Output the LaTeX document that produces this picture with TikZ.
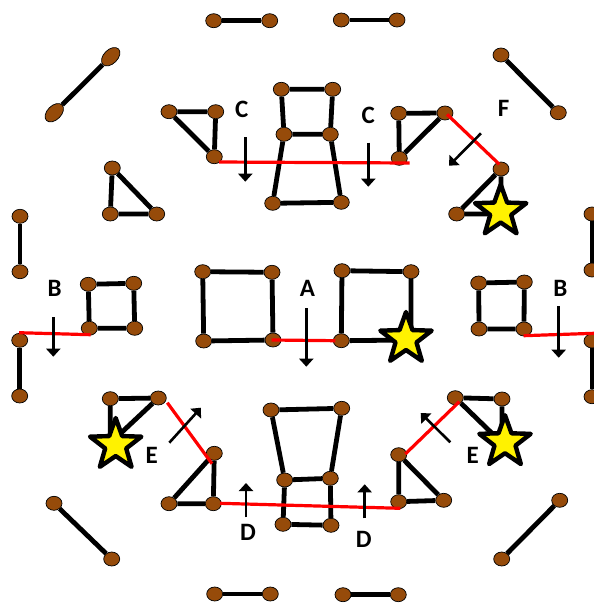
\documentclass[tikz,border=0pt]{standalone}
\usepackage{fontspec}
\setmainfont{Carlito}
\usetikzlibrary{shapes.geometric,arrows.meta}
\definecolor{nodebrown}{RGB}{150,75,10}
\tikzset{
  nd/.style={ellipse,draw=black,line width=0.7pt,fill=nodebrown,minimum width=16pt,minimum height=14pt,inner sep=0pt},
  big/.style={nd,minimum width=22pt,minimum height=14pt,rotate=45},
  bar/.style={line width=4.8pt,black},
  cut/.style={line width=3.2pt,red},
  mv/.style={line width=2.6pt,black,-{Triangle[length=8pt,width=14pt]}},
  lbl/.style={font=\bfseries\fontsize{25}{25}\selectfont,inner sep=0pt},
  hit/.style={star,star points=5,star point ratio=2.45,draw=black,fill=yellow,line width=4.4pt,minimum size=54pt,inner sep=0pt,line join=round}
}
\begin{document}
\begin{tikzpicture}[x=1pt,y=-1pt]
\useasboundingbox (0,0) rectangle (594,603);
\clip (0,0) rectangle (594,603);
% outer ring
\node[nd] (ta) at (213.7,20.7) {};
\node[nd] (tb) at (269.7,20.7) {};
\node[nd] (tc) at (341.3,20) {};
\node[nd] (td) at (397,20) {};
\node[big] (ula) at (110.7,56.7) {};
\node[big] (ulb) at (54.3,112.7) {};
\node[nd] (ura) at (501,55) {};
\node[nd] (urb) at (558.3,112.7) {};
\node[nd] (lva) at (20,216.3) {};
\node[nd] (lvb) at (20,271.7) {};
\node[nd] (lvc) at (19.7,340.3) {};
\node[nd] (lvd) at (19.7,396) {};
\node[nd] (rva) at (592,214) {};
\node[nd] (rvb) at (592,270) {};
\node[nd] (rvc) at (592,341) {};
\node[nd] (rvd) at (592,396.7) {};
\node[nd] (lla) at (54,503.3) {};
\node[nd] (llb) at (111.7,559) {};
\node[nd] (lra) at (559.7,500.3) {};
\node[nd] (lrb) at (501.7,559) {};
\node[nd] (ba) at (214.7,594) {};
\node[nd] (bb) at (270.3,594) {};
\node[nd] (bc) at (343,594.7) {};
\node[nd] (bd) at (398.3,594.7) {};
% triangles
\node[nd] (t1a) at (169,111.7) {};
\node[nd] (t1b) at (215.7,111.7) {};
\node[nd] (t1c) at (214.3,156.7) {};
\node[nd] (t2a) at (112.3,168) {};
\node[nd] (t2b) at (110.3,214) {};
\node[nd] (t2c) at (156.7,214) {};
\node[nd] (t3a) at (398.7,113.3) {};
\node[nd] (t3b) at (445,113) {};
\node[nd] (t3c) at (399.3,158.3) {};
\node[nd] (t4a) at (501,169) {};
\node[nd] (t4b) at (456.7,214) {};
\node[nd] (t4c) at (501,214) {};
\node[nd] (t5a) at (110.3,398.7) {};
\node[nd] (t5b) at (158.3,398) {};
\node[nd] (t5c) at (110.3,443) {};
\node[nd] (t6a) at (214.3,453.3) {};
\node[nd] (t6b) at (169,503.7) {};
\node[nd] (t6c) at (213.3,503.7) {};
\node[nd] (t7a) at (398.7,454.7) {};
\node[nd] (t7b) at (398.7,501.7) {};
\node[nd] (t7c) at (443.7,500.3) {};
\node[nd] (t8a) at (455.3,397.7) {};
\node[nd] (t8b) at (502,399) {};
\node[nd] (t8c) at (502,443) {};
% squares
\node[nd] (s1a) at (88.3,284.3) {};
\node[nd] (s1b) at (133.7,283.3) {};
\node[nd] (s1c) at (89.3,328.3) {};
\node[nd] (s1d) at (134.7,328.3) {};
\node[nd] (s2a) at (202.7,271.7) {};
\node[nd] (s2b) at (272,272.3) {};
\node[nd] (s2c) at (203.7,341) {};
\node[nd] (s2d) at (273,340) {};
\node[nd] (s3a) at (342,270.7) {};
\node[nd] (s3b) at (411,271.7) {};
\node[nd] (s3c) at (341.3,340.7) {};
\node[nd] (s3d) at (411,340) {};
\node[nd] (s4a) at (478.7,283) {};
\node[nd] (s4b) at (524.3,282) {};
\node[nd] (s4c) at (479,329) {};
\node[nd] (s4d) at (524,329) {};
% top centre
\node[nd] (ca) at (281.3,89.3) {};
\node[nd] (cb) at (332.7,89.3) {};
\node[nd] (cc) at (284,134.3) {};
\node[nd] (cd) at (330.3,134.3) {};
\node[nd] (ce) at (272.7,203.3) {};
\node[nd] (cf) at (341.3,202.3) {};
% bottom centre
\node[nd] (da) at (271,410) {};
\node[nd] (db) at (341.7,408.3) {};
\node[nd] (dc) at (284.7,480) {};
\node[nd] (dd) at (330.3,478.3) {};
\node[nd] (de) at (283,524.3) {};
\node[nd] (df) at (331,525.3) {};
% black bars
\draw[bar] (ta)--(tb);
\draw[bar] (tc)--(td);
\draw[bar] (ula)--(ulb);
\draw[bar] (ura)--(urb);
\draw[bar] (lva)--(lvb);
\draw[bar] (lvc)--(lvd);
\draw[bar] (rva)--(rvb);
\draw[bar] (rvc)--(rvd);
\draw[bar] (lla)--(llb);
\draw[bar] (lra)--(lrb);
\draw[bar] (ba)--(bb);
\draw[bar] (bc)--(bd);
\draw[bar] (t1a)--(t1b) (t1b)--(t1c) (t1c)--(t1a);
\draw[bar] (t2a)--(t2b) (t2b)--(t2c) (t2c)--(t2a);
\draw[bar] (t3a)--(t3b) (t3b)--(t3c) (t3c)--(t3a);
\draw[bar] (t4a)--(t4b) (t4b)--(t4c) (t4c)--(t4a);
\draw[bar] (t5a)--(t5b) (t5b)--(t5c) (t5c)--(t5a);
\draw[bar] (t6a)--(t6b) (t6b)--(t6c) (t6c)--(t6a);
\draw[bar] (t7a)--(t7b) (t7b)--(t7c) (t7c)--(t7a);
\draw[bar] (t8a)--(t8b) (t8b)--(t8c) (t8c)--(t8a);
\draw[bar] (s1a)--(s1b) (s1b)--(s1d) (s1d)--(s1c) (s1c)--(s1a);
\draw[bar] (s2a)--(s2b) (s2b)--(s2d) (s2d)--(s2c) (s2c)--(s2a);
\draw[bar] (s3a)--(s3b) (s3b)--(s3d) (s3d)--(s3c) (s3c)--(s3a);
\draw[bar] (s4a)--(s4b) (s4b)--(s4d) (s4d)--(s4c) (s4c)--(s4a);
\draw[bar] (ca)--(cb) (cb)--(cd) (cd)--(cc) (cc)--(ca) (cc)--(ce) (ce)--(cf) (cf)--(cd);
\draw[bar] (da)--(db) (db)--(dd) (dd)--(dc) (dc)--(da) (dc)--(de) (de)--(df) (df)--(dd);
% red cuts
\coordinate (r1a) at (219,162); \coordinate (r1b) at (409.7,163);
\coordinate (r2a) at (447,114.3); \coordinate (r2b) at (499.3,164.3);
\coordinate (r3a) at (271.7,340); \coordinate (r3b) at (335.3,340.7);
\coordinate (r4a) at (19,332.7); \coordinate (r4b) at (90.7,334.7);
\coordinate (r5a) at (523.7,335.7); \coordinate (r5b) at (594,333.3);
\coordinate (r6a) at (167.3,402.7); \coordinate (r6b) at (212,463.7);
\coordinate (r7a) at (220,503.3); \coordinate (r7b) at (400.3,508.3);
\coordinate (r8a) at (459.3,401.7); \coordinate (r8b) at (405.3,454);
\draw[cut] (r1a)--(r1b);
\draw[cut] (r2a)--(r2b);
\draw[cut] (r3a)--(r3b);
\draw[cut] (r4a)--(r4b);
\draw[cut] (r5a)--(r5b);
\draw[cut] (r6a)--(r6b);
\draw[cut] (r7a)--(r7b);
\draw[cut] (r8a)--(r8b);
% arrows
\coordinate (m1a) at (245.3,137.3); \coordinate (m1b) at (245.3,181.7);
\coordinate (m2a) at (368.3,142.7); \coordinate (m2b) at (368.3,186.7);
\coordinate (m3a) at (481,133.3); \coordinate (m3b) at (449,165.7);
\coordinate (m4a) at (306.3,308); \coordinate (m4b) at (306.3,366.7);
\coordinate (m5a) at (53.3,317.3); \coordinate (m5b) at (53.3,356.7);
\coordinate (m6a) at (558.7,306); \coordinate (m6b) at (558.7,357.7);
\coordinate (m7a) at (169.3,442.7); \coordinate (m7b) at (201,407.7);
\coordinate (m8a) at (246,517.3); \coordinate (m8b) at (246,483);
\coordinate (m9a) at (364.7,518.3); \coordinate (m9b) at (364.7,484.3);
\coordinate (m10a) at (450.3,442.3); \coordinate (m10b) at (420.7,413);
\draw[mv] (m1a)--(m1b);
\draw[mv] (m2a)--(m2b);
\draw[mv] (m3a)--(m3b);
\draw[mv] (m4a)--(m4b);
\draw[mv] (m5a)--(m5b);
\draw[mv] (m6a)--(m6b);
\draw[mv] (m7a)--(m7b);
\draw[mv] (m8a)--(m8b);
\draw[mv] (m9a)--(m9b);
\draw[mv] (m10a)--(m10b);
% stars
\node[hit] (st1) at (500.7,211.5) {};
\node[hit] (st2) at (406,339) {};
\node[hit] (st3) at (115.7,445) {};
\node[hit] (st4) at (505,442.2) {};
% labels
\node[lbl] (lc1) at (241.7,109.3) {C};
\node[lbl] (lc2) at (368.3,115) {C};
\node[lbl] (lf) at (503.7,108.3) {F};
\node[lbl] (la) at (307.5,288.5) {A};
\node[lbl] (lb1) at (54.7,288.3) {B};
\node[lbl] (lb2) at (560.3,288.3) {B};
\node[lbl] (le1) at (151.7,455.7) {E};
\node[lbl] (le2) at (472.7,455.7) {E};
\node[lbl] (ld1) at (248,532.3) {D};
\node[lbl] (ld2) at (363.7,539) {D};
\end{tikzpicture}
\end{document}
